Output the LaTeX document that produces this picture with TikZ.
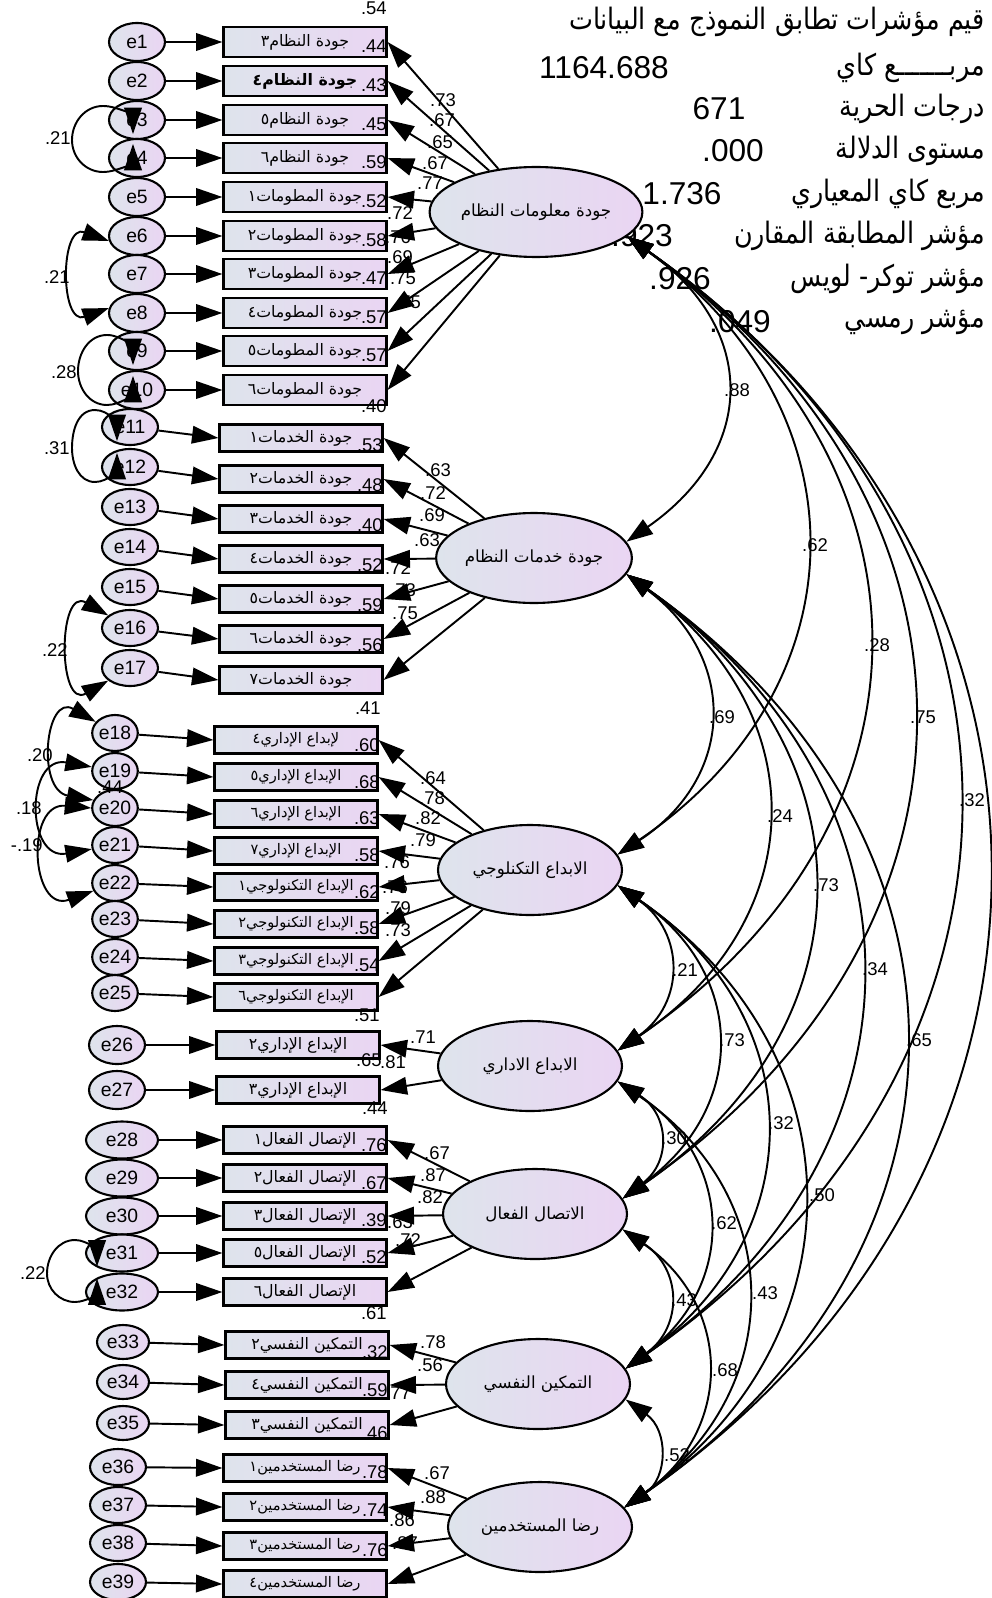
\documentclass[tikz,border=0pt]{standalone}
\usepackage{graphicx}
\usepackage{fontspec}
\setmainfont{Liberation Sans}
\newfontfamily\arabicfont[Script=Arabic]{DejaVu Sans}
\TeXXeTstate=1
\usetikzlibrary{arrows.meta,shapes.geometric,calc}
\newcommand{\artxt}[1]{{\arabicfont\beginR #1\endR}}
\newcommand{\stattxt}[1]{\scalebox{0.86}[1]{\artxt{#1}}}
\definecolor{gradl}{RGB}{222,228,236}
\definecolor{gradr}{RGB}{234,213,243}
\begin{document}
\begin{tikzpicture}[x=0.02cm,y=0.02cm,
  >={Triangle[length=15pt,width=10pt]},
  shd/.style={left color=gradl, right color=gradr},
  itembox/.style={draw=black, line width=1.3pt, shd, minimum width=3.26cm, minimum height=0.54cm, inner sep=0pt, font=\fontsize{9}{10}\selectfont},
  smallbox/.style={itembox, font=\fontsize{8.3}{10}\selectfont},
  latent/.style={ellipse, draw=black, line width=1.2pt, shd, minimum width=3.68cm, minimum height=1.8cm, inner sep=0pt, font=\fontsize{9.5}{11}\selectfont},
  errnode/.style={ellipse, draw=black, line width=1.2pt, shd, inner sep=0pt, font=\fontsize{11}{12}\selectfont},
  eA/.style={errnode, minimum width=1.12cm, minimum height=0.76cm},
  eB/.style={errnode, minimum width=1.12cm, minimum height=0.72cm},
  eC/.style={errnode, minimum width=0.88cm, minimum height=0.72cm},
  eD/.style={errnode, minimum width=1.44cm, minimum height=0.74cm},
  eE/.style={errnode, minimum width=1.04cm, minimum height=0.68cm},
  arr/.style={line width=1.1pt, ->},
  cov/.style={line width=1.1pt, <->},
  num/.style={font=\fontsize{10.5}{12}\selectfont, inner sep=0pt},
  rsq/.style={num, anchor=east},
  covl/.style={num, anchor=east},
  stat/.style={anchor=east, inner sep=0pt, font=\fontsize{16.8}{19}\selectfont},
  statnum/.style={inner sep=0pt, font=\fontsize{18}{20}\selectfont},
  arc/.style={cov, bend left=55, looseness=#1},
]
\useasboundingbox (0,0) rectangle (991,-1598);
\fill[white] (0,0) rectangle (991,-1598);

% ---------- statistics block ----------
\node[stat] (s1) at (985,-22) {\stattxt{قيم مؤشرات تطابق النموذج مع البيانات}};
\node[stat] (s2) at (985,-68) {\stattxt{مربـــــــع كاي}};
\node[stat] (s3) at (985,-109) {\stattxt{درجات الحرية}};
\node[stat] (s4) at (985,-151) {\stattxt{مستوى الدلالة}};
\node[stat] (s5) at (985,-194) {\stattxt{مربع كاي المعياري}};
\node[stat] (s6) at (985,-236) {\stattxt{مؤشر المطابقة المقارن}};
\node[stat] (s7) at (985,-279) {\stattxt{مؤشر توكر- لويس}};
\node[stat] (s8) at (985,-322) {\stattxt{مؤشر رمسي}};
\node[statnum] (v2) at (604,-68) {1164.688};
\node[statnum] (v3) at (719,-109) {671};
\node[statnum] (v4) at (733,-151) {.000};
\node[statnum] (v5) at (682,-194) {1.736};
\node[statnum] (v6) at (642,-236) {.923};
\node[statnum] (v7) at (680,-279) {.926};
\node[statnum] (v8) at (740,-322) {.049};

% ---------- latent variables ----------
\node[latent] (F1) at (536,-212) {\artxt{جودة معلومات النظام}};
\node[latent] (F2) at (534,-558) {\artxt{جودة خدمات النظام}};
\node[latent] (F3) at (530,-870) {\artxt{الابداع التكنلوجي}};
\node[latent] (F4) at (530,-1066) {\artxt{الابداع الاداري}};
\node[latent] (F5) at (535,-1214) {\artxt{الاتصال الفعال}};
\node[latent] (F6) at (538,-1384) {\artxt{التمكين النفسي}};
\node[latent] (F7) at (540,-1527) {\artxt{رضا المستخدمين}};

% ---------- group 1 ----------
\node[itembox, minimum height=0.6cm] (b1) at (305,-42) {\artxt{جودة النظام٣}};
\node[itembox, minimum height=0.6cm] (b2) at (305,-81) {\bfseries\artxt{جودة النظام٤}};
\node[itembox, minimum height=0.6cm] (b3) at (305,-120) {\artxt{جودة النظام٥}};
\node[itembox, minimum height=0.6cm] (b4) at (305,-158) {\artxt{جودة النظام٦}};
\node[itembox, minimum height=0.6cm] (b5) at (305,-197) {\artxt{جودة المطومات١}};
\node[itembox, minimum height=0.6cm] (b6) at (305,-236) {\artxt{جودة المطومات٢}};
\node[itembox, minimum height=0.6cm] (b7) at (305,-274) {\artxt{جودة المطومات٣}};
\node[itembox, minimum height=0.6cm] (b8) at (305,-313) {\artxt{جودة المطومات٤}};
\node[itembox, minimum height=0.6cm] (b9) at (305,-351) {\artxt{جودة المطومات٥}};
\node[itembox, minimum height=0.6cm] (b10) at (305,-390) {\artxt{جودة المطومات٦}};
\node[eA] (e1) at (137,-42) {e1};
\node[eA] (e2) at (137,-81) {e2};
\node[eA] (e3) at (137,-120) {e3};
\node[eA] (e4) at (137,-158) {e4};
\node[eA] (e5) at (137,-197) {e5};
\node[eA] (e6) at (137,-236) {e6};
\node[eA] (e7) at (137,-274) {e7};
\node[eA] (e8) at (137,-313) {e8};
\node[eA] (e9) at (137,-351) {e9};
\node[eA] (e10) at (137,-390) {e10};
\node[rsq] (r0) at (387,-8) {.54};
\node[rsq] (r1) at (387,-46) {.44};
\node[rsq] (r2) at (387,-85) {.43};
\node[rsq] (r3) at (387,-124) {.45};
\node[rsq] (r4) at (387,-162) {.59};
\node[rsq] (r5) at (387,-201) {.52};
\node[rsq] (r6) at (387,-240) {.58};
\node[rsq] (r7) at (387,-278) {.47};
\node[rsq] (r8) at (387,-317) {.57};
\node[rsq] (r9) at (387,-355) {.57};
\node[rsq] (r10) at (387,-406) {.40};
\node[num] (l1) at (443,-100) {.73};
\node[num] (l2) at (442,-120) {.67};
\node[num] (l3) at (440,-142) {.65};
\node[num] (l4) at (435,-163) {.67};
\node[num] (l5) at (430,-183) {.77};
\node[num] (l6) at (400,-213) {.72};
\node[num] (l7) at (398,-237) {.76};
\node[num] (l8) at (400,-257) {.69};
\node[num] (l9) at (403,-278) {.75};
\node[num] (l10) at (408,-302) {.75};

% ---------- group 2 ----------
\node[itembox] (b11) at (301,-438) {\artxt{جودة الخدمات١}};
\node[itembox] (b12) at (301,-479) {\artxt{جودة الخدمات٢}};
\node[itembox] (b13) at (301,-519) {\artxt{جودة الخدمات٣}};
\node[itembox] (b14) at (301,-559) {\artxt{جودة الخدمات٤}};
\node[itembox] (b15) at (301,-599) {\artxt{جودة الخدمات٥}};
\node[itembox] (b16) at (301,-639) {\artxt{جودة الخدمات٦}};
\node[itembox] (b17) at (301,-680) {\artxt{جودة الخدمات٧}};
\node[eB] (e11) at (130,-427) {e11};
\node[eB] (e12) at (130,-467) {e12};
\node[eB] (e13) at (130,-507) {e13};
\node[eB] (e14) at (130,-547) {e14};
\node[eB] (e15) at (130,-587) {e15};
\node[eB] (e16) at (130,-628) {e16};
\node[eB] (e17) at (130,-668) {e17};
\node[rsq] (r11) at (383,-445) {.53};
\node[rsq] (r12) at (383,-485) {.48};
\node[rsq] (r13) at (383,-525) {.40};
\node[rsq] (r14) at (383,-565) {.52};
\node[rsq] (r15) at (383,-605) {.59};
\node[rsq] (r16) at (383,-645) {.56};
\node[rsq] (r17) at (381,-708) {.41};
\node[num] (l11) at (438,-470) {.63};
\node[num] (l12) at (433,-493) {.72};
\node[num] (l13) at (432,-515) {.69};
\node[num] (l14) at (427,-540) {.63};
\node[num] (l15) at (398,-568) {.72};
\node[num] (l16) at (403,-590) {.73};
\node[num] (l17) at (405,-613) {.75};

% ---------- group 3 ----------
\node[smallbox] (b18) at (296,-740) {\artxt{لإبداع الإداري٤}};
\node[smallbox] (b19) at (296,-777) {\artxt{الإبداع الإداري٥}};
\node[smallbox] (b20) at (296,-814) {\artxt{الإبداع الإداري٦}};
\node[smallbox] (b21) at (296,-851) {\artxt{الإبداع الإداري٧}};
\node[smallbox] (b22) at (296,-887) {\artxt{الإبداع التكنولوجي١}};
\node[smallbox] (b23) at (296,-924) {\artxt{الإبداع التكنولوجي٢}};
\node[smallbox] (b24) at (296,-961) {\artxt{الإبداع التكنولوجي٣}};
\node[smallbox] (b25) at (296,-997) {\artxt{الإبداع التكنولوجي٦}};
\node[eC] (e18) at (115,-733) {e18};
\node[eC] (e19) at (115,-771) {e19};
\node[eC] (e20) at (115,-808) {e20};
\node[eC] (e21) at (115,-845) {e21};
\node[eC] (e22) at (115,-883) {e22};
\node[eC] (e23) at (115,-919) {e23};
\node[eC] (e24) at (115,-957) {e24};
\node[eC] (e25) at (115,-993) {e25};
\node[rsq] (r18) at (380,-745) {.60};
\node[rsq] (r19) at (380,-782) {.68};
\node[rsq] (r20) at (380,-818) {.63};
\node[rsq] (r21) at (380,-855) {.58};
\node[rsq] (r22) at (380,-892) {.62};
\node[rsq] (r23) at (380,-928) {.58};
\node[rsq] (r24) at (380,-965) {.54};
\node[rsq] (r25) at (380,-1015) {.51};
\node[num] (l18) at (433,-778) {.64};
\node[num] (l19) at (432,-798) {.78};
\node[num] (l20) at (428,-818) {.82};
\node[num] (l21) at (423,-840) {.79};
\node[num] (l22) at (397,-862) {.76};
\node[num] (l23) at (395,-887) {.76};
\node[num] (l24) at (398,-908) {.79};
\node[num] (l25) at (398,-930) {.73};

% ---------- group 4 ----------
\node[itembox] (b26) at (298,-1045) {\artxt{الإبداع الإداري٢}};
\node[itembox] (b27) at (298,-1090) {\artxt{الإبداع الإداري٣}};
\node[eA] (e26) at (117,-1045) {e26};
\node[eA] (e27) at (117,-1090) {e27};
\node[rsq] (r26) at (382,-1060) {.65};
\node[rsq] (r27) at (388,-1108) {.44};
\node[num] (l26) at (423,-1037) {.71};
\node[num] (l27) at (393,-1062) {.81};

% ---------- group 5 ----------
\node[itembox] (b28) at (305,-1140) {\artxt{الإتصال الفعال١}};
\node[itembox] (b29) at (305,-1178) {\artxt{الإتصال الفعال٢}};
\node[itembox] (b30) at (305,-1216) {\artxt{الإتصال الفعال٣}};
\node[itembox] (b31) at (305,-1253) {\artxt{الإتصال الفعال٥}};
\node[itembox] (b32) at (305,-1292) {\artxt{الإتصال الفعال٦}};
\node[eD] (e28) at (122,-1140) {e28};
\node[eD] (e29) at (122,-1178) {e29};
\node[eD] (e30) at (122,-1216) {e30};
\node[eD] (e31) at (122,-1253) {e31};
\node[eD] (e32) at (122,-1292) {e32};
\node[rsq] (r28) at (387,-1145) {.76};
\node[rsq] (r29) at (387,-1183) {.67};
\node[rsq] (r30) at (387,-1220) {.39};
\node[rsq] (r31) at (387,-1257) {.52};
\node[rsq] (r32) at (387,-1313) {.61};
\node[num] (l28) at (437,-1153) {.67};
\node[num] (l29) at (433,-1175) {.87};
\node[num] (l30) at (430,-1197) {.82};
\node[num] (l31) at (400,-1222) {.63};
\node[num] (l32) at (408,-1240) {.72};

% ---------- group 6 ----------
\node[itembox] (b33) at (307,-1345) {\artxt{التمكين النفسي٢}};
\node[itembox] (b34) at (307,-1385) {\artxt{التمكين النفسي٤}};
\node[itembox] (b35) at (307,-1425) {\artxt{التمكين النفسي٣}};
\node[eE] (e33) at (123,-1342) {e33};
\node[eE] (e34) at (123,-1382) {e34};
\node[eE] (e35) at (123,-1423) {e35};
\node[rsq] (r33) at (388,-1352) {.32};
\node[rsq] (r34) at (388,-1390) {.59};
\node[rsq] (r35) at (388,-1433) {.46};
\node[num] (l33) at (433,-1342) {.78};
\node[num] (l34) at (430,-1365) {.56};
\node[num] (l35) at (398,-1393) {.77};

% ---------- group 7 ----------
\node[smallbox] (b36) at (305,-1468) {\artxt{رضا المستخدمين١}};
\node[smallbox] (b37) at (305,-1507) {\artxt{رضا المستخدمين٢}};
\node[smallbox] (b38) at (305,-1546) {\artxt{رضا المستخدمين٣}};
\node[smallbox] (b39) at (305,-1584) {\artxt{رضا المستخدمين٤}};
\node[eB] (e36) at (118,-1467) {e36};
\node[eB] (e37) at (118,-1505) {e37};
\node[eB] (e38) at (118,-1543) {e38};
\node[eB] (e39) at (118,-1582) {e39};
\node[rsq] (r36) at (388,-1472) {.78};
\node[rsq] (r37) at (388,-1510) {.74};
\node[rsq] (r38) at (388,-1550) {.76};
\node[num] (l36) at (437,-1473) {.67};
\node[num] (l37) at (433,-1497) {.88};
\node[num] (l38) at (402,-1520) {.86};
\node[num] (l39) at (405,-1543) {.87};

% ---------- error -> item arrows ----------
\foreach \i in {1,...,39} {\draw[arr] (e\i) -- (b\i.west);}

% ---------- loadings ----------
\foreach \i in {1,...,10} {\draw[arr] (F1) -- (b\i.east);}
\foreach \i in {11,...,17} {\draw[arr] (F2) -- (b\i.east);}
\foreach \i in {18,...,25} {\draw[arr] (F3) -- (b\i.east);}
\foreach \i in {26,27} {\draw[arr] (F4) -- (b\i.east);}
\foreach \i in {28,...,32} {\draw[arr] (F5) -- (b\i.east);}
\foreach \i in {33,34,35} {\draw[arr] (F6) -- (b\i.east);}
\foreach \i in {36,...,39} {\draw[arr] (F7) -- (b\i.east);}

% ---------- error covariances ----------
\node[num] (x44) at (110,-787) {.44};
\draw[cov] ($(e3.south)+(-4,6)$) to[out=90,in=0] ($(e3.center)+(-34,14)$) to[out=180,in=90] ($(e3.south)+(-65,0)$) to[out=-90,in=180] ($(e4.center)+(-34,-14)$) to[out=0,in=-90] ($(e4.north)+(-4,-6)$);
\node[covl] (k1) at (71,-138) {.21};
\draw[cov] (e6.190) to[out=160,in=200,looseness=2] (e8.170);
\node[covl] (k2) at (70,-277) {.21};
\draw[cov] ($(e9.south)+(-4,6)$) to[out=90,in=0] ($(e9.center)+(-30,16)$) to[out=180,in=90] ($(e9.south)+(-59,0)$) to[out=-90,in=180] ($(e10.center)+(-30,-15)$) to[out=0,in=-90] ($(e10.north)+(-4,-6)$);
\node[covl] (k3) at (77,-372) {.28};
\draw[cov] ($(e11.south)+(-13,5)$) to[out=90,in=0] ($(e11.center)+(-35,17)$) to[out=180,in=90] ($(e11.south)+(-58,-2)$) to[out=-90,in=180] ($(e12.center)+(-35,-15)$) to[out=0,in=-90] ($(e12.north)+(-13,-5)$);
\node[covl] (k4) at (70,-448) {.31};
\draw[cov] (e16.150) to[out=150,in=210,looseness=2.3] (e17.210);
\node[covl] (k5) at (68,-650) {.22};
\draw[cov] (e18.150) to[out=150,in=170,looseness=1.9] (e20.160);
\node[covl] (k6) at (53,-755) {.20};
\draw[cov] (e19.170) to[out=170,in=190,looseness=2.1] (e21.190);
\node[covl] (k7) at (42,-808) {.18};
\draw[cov] (e20.180) to[out=175,in=200,looseness=2.05] (e22.200);
\node[covl] (k8) at (43,-845) {-.19};
\draw[cov] ($(e31.south)+(-25,6)$) to[out=90,in=0] ($(e31.center)+(-47,13)$) to[out=180,in=90] ($(e31.south)+(-75,-1)$) to[out=-90,in=180] ($(e32.center)+(-47,-10)$) to[out=0,in=-90] ($(e32.north)+(-25,-6)$);
\node[covl] (k9) at (46,-1273) {.22};

% ---------- latent covariances ----------
\draw[arc=1.34] (F1.-15) to (F2.10);
\draw[arc=1.23] (F1.-15) to (F3.10);
\draw[arc=1.25] (F1.-15) to (F4.10);
\draw[arc=1.24] (F1.-15) to (F5.10);
\draw[arc=1.22] (F1.-15) to (F6.10);
\draw[arc=1.18] (F1.-15) to (F7.13);
\draw[arc=1.28] (F2.-10) to (F3.10);
\draw[arc=1.26] (F2.-10) to (F4.10);
\draw[arc=1.25] (F2.-10) to (F5.10);
\draw[arc=1.23] (F2.-10) to (F6.10);
\draw[arc=1.24] (F2.-10) to (F7.13);
\draw[arc=1.28] (F3.-10) to (F4.10);
\draw[arc=1.27] (F3.-10) to (F5.10);
\draw[arc=1.23] (F3.-10) to (F6.10);
\draw[arc=1.21] (F3.-10) to (F7.13);
\draw[arc=1.34] (F4.-10) to (F5.10);
\draw[arc=1.24] (F4.-10) to (F6.10);
\draw[arc=1.22] (F4.-10) to (F7.13);
\draw[arc=1.31] (F5.-10) to (F6.10);
\draw[arc=1.23] (F5.-10) to (F7.13);
\draw[arc=1.25] (F6.-10) to (F7.13);
\node[num] (c12) at (737,-390) {.88};
\node[num] (c13) at (815,-545) {.62};
\node[num] (c14) at (877,-645) {.28};
\node[num] (c15) at (923,-717) {.75};
\node[num] (c16) at (972,-800) {.32};
\node[num] (c23) at (722,-717) {.69};
\node[num] (c24) at (780,-816) {.24};
\node[num] (c25) at (826,-885) {.73};
\node[num] (c26) at (875,-969) {.34};
\node[num] (c27) at (919,-1040) {.65};
\node[num] (c34) at (685,-970) {.21};
\node[num] (c35) at (732,-1040) {.73};
\node[num] (c36) at (781,-1123) {.32};
\node[num] (c37) at (822,-1195) {.50};
\node[num] (c45) at (674,-1138) {.30};
\node[num] (c46) at (724,-1223) {.62};
\node[num] (c47) at (765,-1293) {.43};
\node[num] (c56) at (684,-1300) {.43};
\node[num] (c57) at (725,-1370) {.68};
\node[num] (c67) at (677,-1455) {.52};
\end{tikzpicture}
\end{document}
